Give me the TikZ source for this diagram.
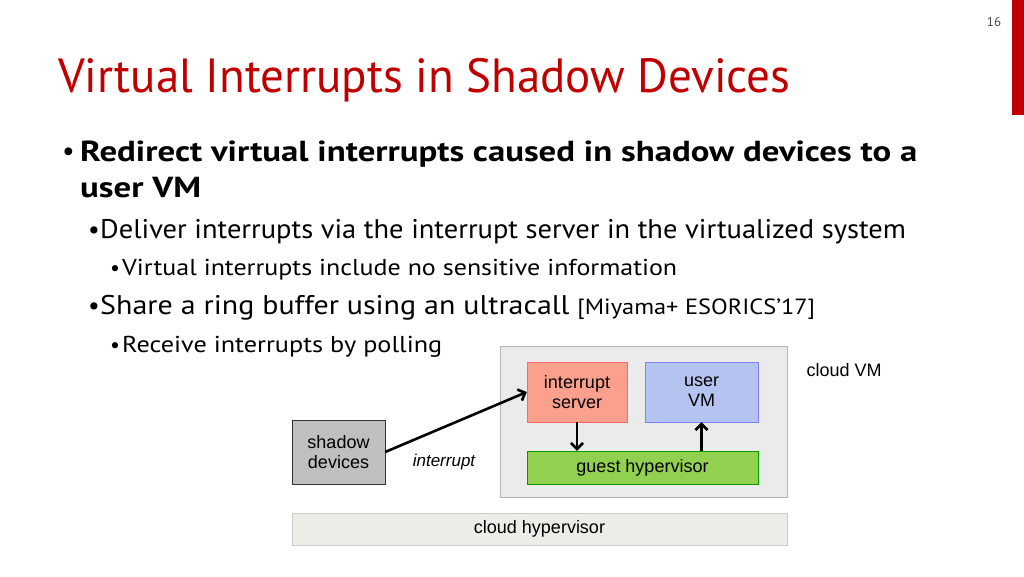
\documentclass[tikz,border=0pt]{standalone}
\usepackage{fontspec}
\setmainfont{PT Sans}
\newfontfamily\diafont{Liberation Sans}
\usetikzlibrary{positioning,arrows.meta}
\definecolor{titlered}{RGB}{192,0,0}
\definecolor{srvfill}{RGB}{250,160,140}
\definecolor{vmfill}{RGB}{180,195,240}
\definecolor{ghvfill}{RGB}{146,208,80}
\begin{document}
\begin{tikzpicture}[x=1pt,y=-1pt,
  box/.style={draw,minimum width=#1,inner sep=0pt,font=\diafont\fontsize{18}{20}\selectfont,align=center},
  bul/.style={anchor=base west,inner sep=0pt},
  wide/.style={bul,xscale=#1,transform shape},
  arr/.style={-{Straight Barb[length=6pt,width=12pt]},line width=2.6pt}]
\useasboundingbox (0,0) rectangle (1024,576);
\fill[titlered] (1012,0) rectangle (1024,115);
\node[anchor=base] (pg) at (994,26) {\fontsize{13}{14}\selectfont\color{black!70}16};
\node[wide=0.98] (title) at (58,92) {\fontsize{48}{52}\selectfont\color{titlered}Virtual Interrupts in Shadow Devices};

% bullets
\node[bul] (b1) at (62,160) {\fontsize{28}{30}\selectfont\textbullet};
\node[wide=1.2] (t1) at (80,161) {\fontsize{29}{30}\selectfont\bfseries Redirect virtual interrupts caused in shadow devices to a};
\node[wide=1.2] (t1b) at (80,197) {\fontsize{29}{30}\selectfont\bfseries user VM};
\node[bul] (b2) at (88,238) {\fontsize{26}{30}\selectfont\textbullet};
\node[wide=1.055] (t2) at (100,238) {\fontsize{27}{30}\selectfont Deliver interrupts via the interrupt server in the virtualized system};
\node[bul] (b3) at (110,275) {\fontsize{22}{26}\selectfont\textbullet};
\node[wide=1.13] (t3) at (122,275) {\fontsize{23}{26}\selectfont Virtual interrupts include no sensitive information};
\node[bul] (b4) at (88,314) {\fontsize{26}{30}\selectfont\textbullet};
\node[wide=1.11] (t4) at (100,314) {\fontsize{27}{30}\selectfont Share a ring buffer using an ultracall {\fontsize{22}{26}\selectfont[Miyama+ ESORICS'17]}};
\node[bul] (b5) at (110,352) {\fontsize{22}{26}\selectfont\textbullet};
\node[wide=1.14] (t5) at (122,352) {\fontsize{23}{26}\selectfont Receive interrupts by polling};

% diagram
\node[box=287,minimum height=151,draw=black!30,fill=blue!6!black!8] (cvm) at (643.5,421.5) {};
\node[box=100,minimum height=60,draw=red!60,fill=srvfill] (isrv) at (577,392) {interrupt\\server};
\node[box=113,minimum height=60,draw=blue!50,fill=vmfill] (uvm) at (701.5,392) {user\\VM};
\node[box=231,minimum height=33,draw=green!60!black,fill=ghvfill] (ghv) at (642.5,467.5) {guest hypervisor};
\node[box=93,minimum height=64,draw=black!80,fill=black!25] (shd) at (338.5,452) {shadow\\devices};
\node[box=495,minimum height=32,draw=black!20,fill=yellow!20!black!10] (chv) at (539.5,529) {cloud hypervisor};
\node[anchor=west,font=\diafont\fontsize{18}{20}\selectfont] (cvml) at (803,370) {cloud VM};
\node[font=\diafont\itshape\fontsize{17}{20}\selectfont] (intl) at (444,462) {interrupt};

\draw[arr] (shd.east) -- (isrv.west);
\draw[arr] (isrv) -- (isrv |- ghv.north);
\draw[arr] (uvm |- ghv.north) -- (uvm.south);
\end{tikzpicture}
\end{document}
